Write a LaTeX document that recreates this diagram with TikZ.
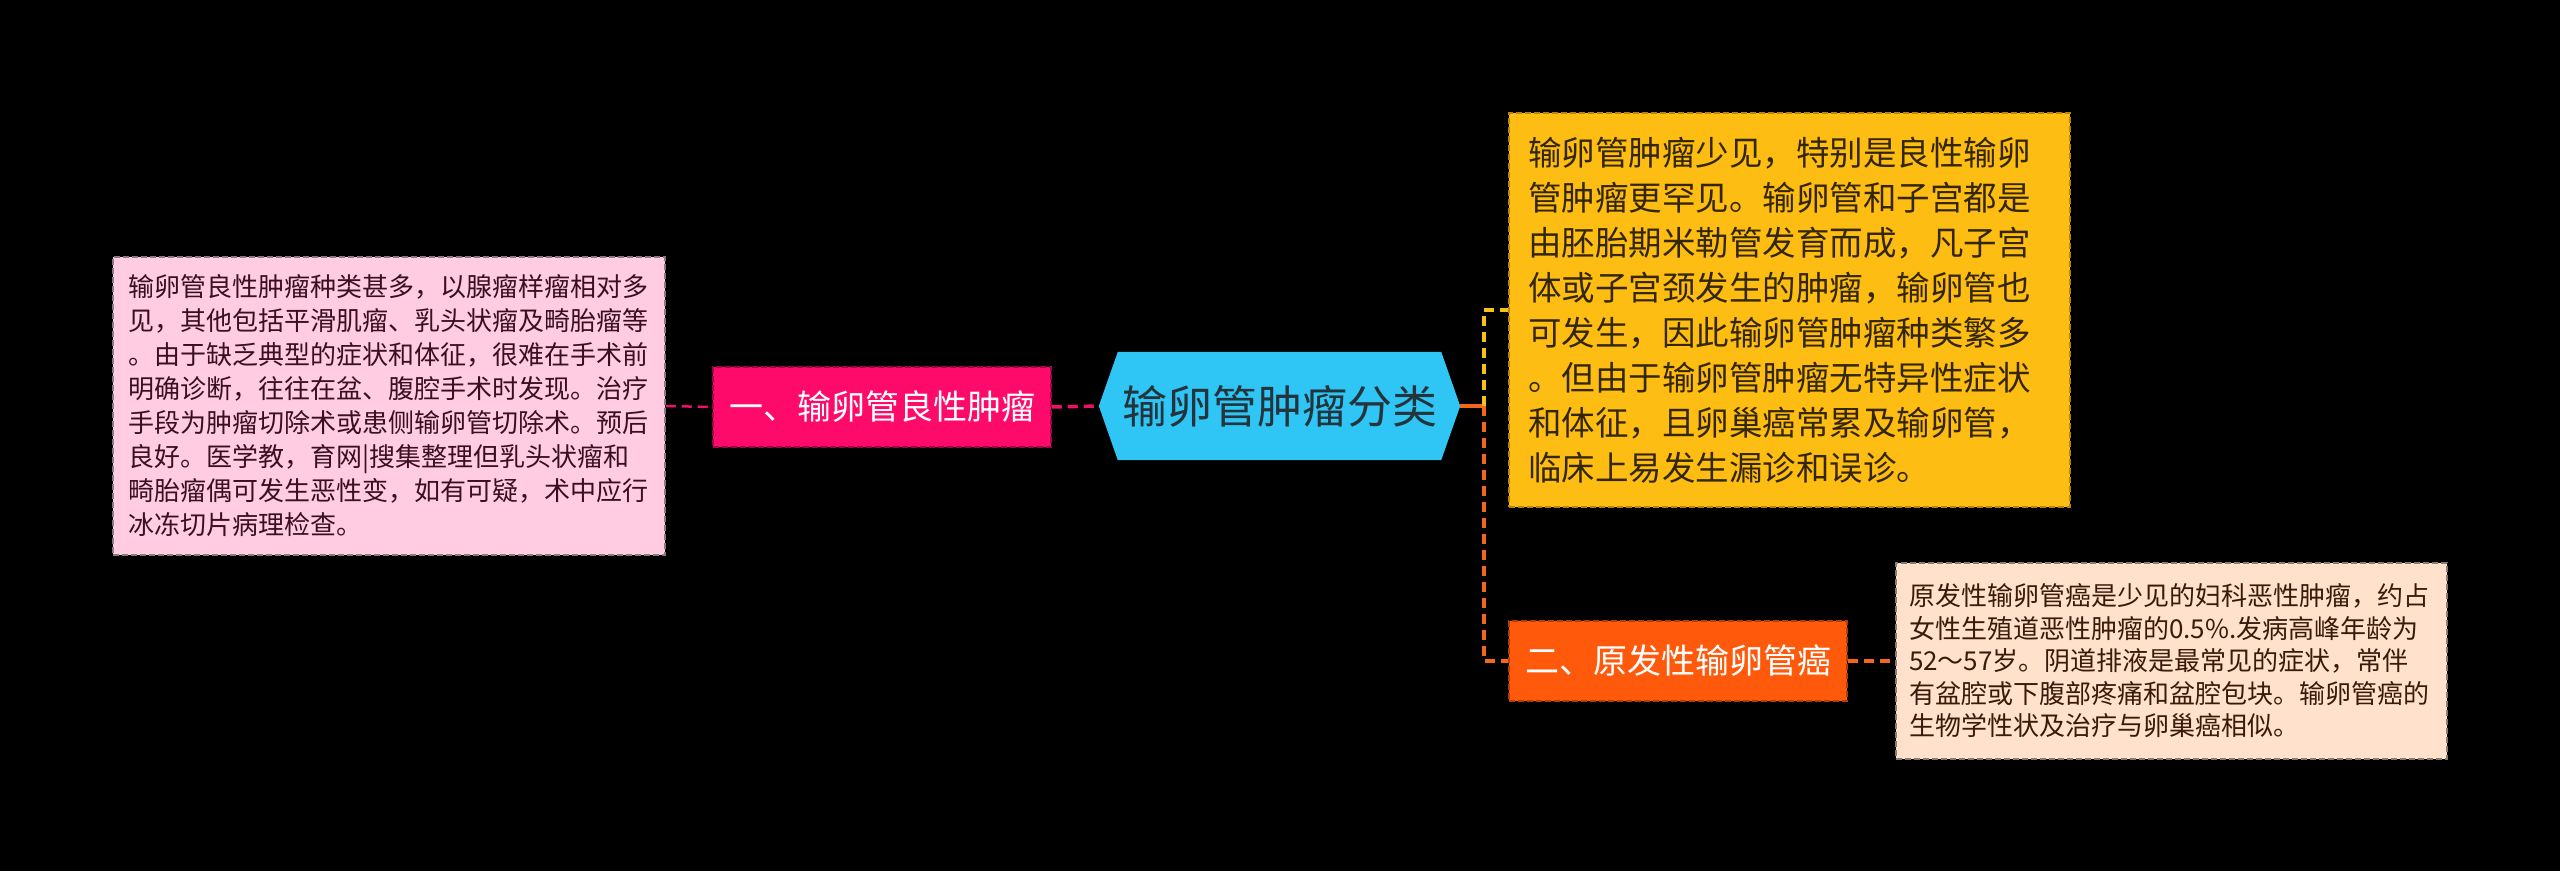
\documentclass[tikz,border=0pt]{standalone}
\usepackage{fontspec}
\setmainfont{Noto Sans CJK SC}
\usetikzlibrary{backgrounds}
\definecolor{pinkfill}{HTML}{FFCCE1}
\definecolor{pinkline}{HTML}{8A7A80}
\definecolor{pinktext}{HTML}{3A0F22}
\definecolor{redfill}{HTML}{FE0A6B}
\definecolor{redline}{HTML}{A8004A}
\definecolor{hubfill}{HTML}{2FC5F5}
\definecolor{hubtext}{HTML}{24343C}
\definecolor{ylwfill}{HTML}{FEBD13}
\definecolor{ylwline}{HTML}{B88600}
\definecolor{ylwtext}{HTML}{332600}
\definecolor{orgfill}{HTML}{FF5A0C}
\definecolor{orgline}{HTML}{B83C00}
\definecolor{peachfill}{HTML}{FFE1CC}
\definecolor{peachline}{HTML}{8A7A70}
\definecolor{peachtext}{HTML}{3A1A0A}
\definecolor{ylwconn}{HTML}{F5C218}
\definecolor{orgconn}{HTML}{F5661A}
\definecolor{redconn}{HTML}{F0106A}
\tikzset{
  boxbase/.style={rectangle, inner sep=0pt, line width=1.5pt, dash pattern=on 6pt off 3pt},
  leafbox/.style={boxbase, align=left},
  labelbox/.style={boxbase, text=white, font=\fontsize{34}{34}\selectfont},
  conn/.style={line width=3.2pt, dash pattern=on 10pt off 6pt},
}
\begin{document}
\begin{tikzpicture}[x=1pt,y=-1pt]
\begin{pgfonlayer}{background}
\fill[black] (0,0) rectangle (2560,871);
\end{pgfonlayer}
\useasboundingbox (0,0) rectangle (2560,871);

% left leaf
\node[leafbox, fill=pinkfill, draw=pinkline, text=pinktext,
      minimum width=552pt, minimum height=298pt, text width=522pt,
      font=\fontsize{26}{34}\selectfont] (ld) at (389,406)
{输卵管良性肿瘤种类甚多，以腺瘤样瘤相对多\\
见，其他包括平滑肌瘤、乳头状瘤及畸胎瘤等\\
。由于缺乏典型的症状和体征，很难在手术前\\
明确诊断，往往在盆、腹腔手术时发现。治疗\\
手段为肿瘤切除术或患侧输卵管切除术。预后\\
良好。医学教，育网|搜集整理但乳头状瘤和\\
畸胎瘤偶可发生恶性变，如有可疑，术中应行\\
冰冻切片病理检查。};

% left label
\node[labelbox, fill=redfill, draw=redline,
      minimum width=338pt, minimum height=80pt] (lb) at (882,407) {一、输卵管良性肿瘤};

% hub
\node[inner sep=0pt, minimum width=323pt, minimum height=108pt, text=hubtext,
      font=\fontsize{45}{45}\selectfont] (hub) at (1279.5,406) {输卵管肿瘤分类};
\coordinate (hubL) at ([xshift=-19pt]hub.west);
\coordinate (hubR) at ([xshift=19pt]hub.east);
\begin{pgfonlayer}{background}
\fill[hubfill] (hub.north west) -- (hub.north east) -- (hubR) -- (hub.south east)
  -- (hub.south west) -- (hubL) -- cycle;
\end{pgfonlayer}

% right top leaf
\node[leafbox, fill=ylwfill, draw=ylwline, text=ylwtext,
      minimum width=561pt, minimum height=394pt, text width=523pt,
      font=\fontsize{33.5}{45}\selectfont] (yb) at (1789.5,310)
{输卵管肿瘤少见，特别是良性输卵\\
管肿瘤更罕见。输卵管和子宫都是\\
由胚胎期米勒管发育而成，凡子宫\\
体或子宫颈发生的肿瘤，输卵管也\\
可发生，因此输卵管肿瘤种类繁多\\
。但由于输卵管肿瘤无特异性症状\\
和体征，且卵巢癌常累及输卵管，\\
临床上易发生漏诊和误诊。};

% right bottom label
\node[labelbox, fill=orgfill, draw=orgline,
      minimum width=338pt, minimum height=80pt] (ob) at (1678,661) {二、原发性输卵管癌};

% right bottom leaf
\node[leafbox, fill=peachfill, draw=peachline, text=peachtext,
      minimum width=551pt, minimum height=196pt, text width=525pt,
      font=\fontsize{26}{32.5}\selectfont] (pb) at (2171.5,661)
{原发性输卵管癌是少见的妇科恶性肿瘤，约占\\
女性生殖道恶性肿瘤的0.5\%.发病高峰年龄为\\
52～57岁。阴道排液是最常见的症状，常伴\\
有盆腔或下腹部疼痛和盆腔包块。输卵管癌的\\
生物学性状及治疗与卵巢癌相似。};

% connectors
\coordinate (bus) at (1484,406);
\draw[conn, redconn, line width=2.5pt] (ld.east) -- (lb.west);
\draw[conn, redconn, line width=3.5pt] (lb.east) -- (hubL);
\draw[orgconn, line width=3.5pt] (hubR) -- (bus);
\draw[conn, ylwconn] (bus) -- (bus |- yb.west) -- (yb.west);
\draw[conn, orgconn] (bus) -- (bus |- ob.west) -- (ob.west);
\draw[conn, orgconn] (ob.east) -- (pb.west);
\end{tikzpicture}
\end{document}
